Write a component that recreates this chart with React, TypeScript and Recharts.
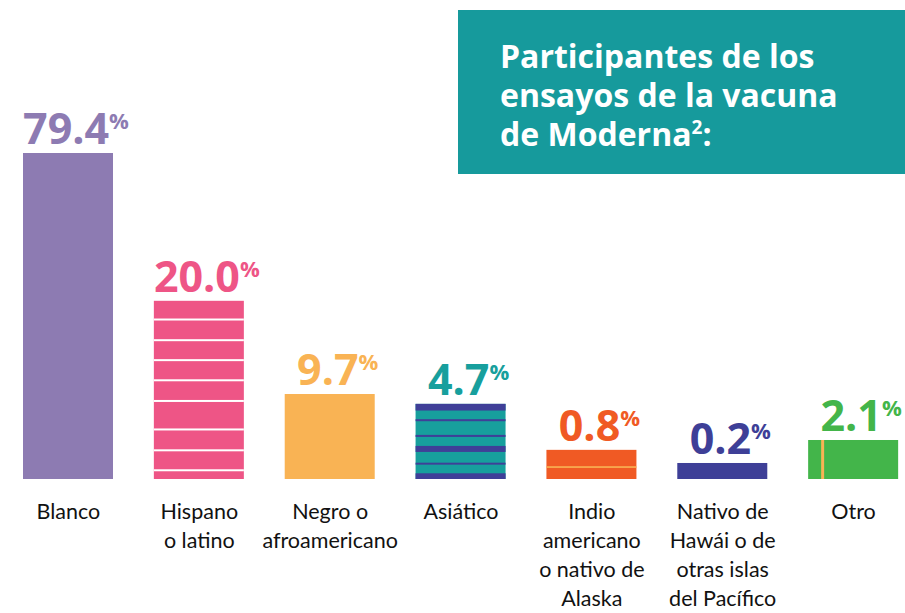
import { BarChart, Bar, XAxis, YAxis, LabelList } from 'recharts';

// categories as printed under the bars
const categories = [
  'Blanco',
  'Hispano o latino',
  'Negro o afroamericano',
  'Asiático',
  'Indio americano o nativo de Alaska',
  'Nativo de Hawái o de otras islas del Pacífico',
  'Otro',
];

// wrapped tick labels, one array of lines per category
const tickLines = [
  ['Blanco'],
  ['Hispano', 'o latino'],
  ['Negro o', 'afroamericano'],
  ['Asiático'],
  ['Indio', 'americano', 'o nativo de', 'Alaska'],
  ['Nativo de', 'Hawái o de', 'otras islas', 'del Pacífico'],
  ['Otro'],
];

// share of trial participants (%), as printed above each bar
const percentages = [79.4, 20.0, 9.7, 4.7, 0.8, 0.2, 2.1];

// the infographic does not draw bars to scale: these are the drawn lengths,
// read off the picture, in units where the Blanco bar = 79.4
const barLengths = [79.4, 43.4, 20.7, 18.3, 7.1, 3.9, 9.5];

const data = categories.map((name, i) => ({ name, pct: percentages[i], len: barLengths[i] }));

const COLORS = ['#8d7bb2', '#ee5586', '#f9b354', '#179f9d', '#f05a24', '#3e3f97', '#43b54a'];
const STRIPE_PURPLE = '#3f3f98';
const YELLOW = '#f9b354';

const PatternBar = (props: any) => {
  const { x, y, width, height, index } = props;
  const fill = COLORS[index];
  const parts = [<rect key="b" x={x} y={y} width={width} height={height} fill={fill} />];
  if (index === 1) {
    // white horizontal rules across the pink bar
    [0.105, 0.221, 0.333, 0.446, 0.562, 0.722, 0.839, 0.951].forEach((f, k) =>
      parts.push(<rect key={'w' + k} x={x} y={y + f * height - 1} width={width} height={2} fill="#fff" />)
    );
  }
  if (index === 3) {
    // purple bands across the teal bar
    [
      [0, 0.089],
      [0.204, 0.231],
      [0.413, 0.44],
      [0.56, 0.64],
      [0.783, 0.809],
      [0.924, 1],
    ].forEach(([a, b], k) =>
      parts.push(
        <rect key={'p' + k} x={x} y={y + a * height} width={width} height={(b - a) * height} fill={STRIPE_PURPLE} />
      )
    );
  }
  if (index === 4) {
    parts.push(<rect key="l" x={x} y={y + height * 0.59 - 0.8} width={width} height={1.6} fill={YELLOW} />);
  }
  if (index === 6) {
    parts.push(<rect key="v" x={x + 13} y={y} width={3} height={height} fill={YELLOW} />);
  }
  return <g>{parts}</g>;
};

const PctLabel = (props: any) => {
  const { x, y, width, index, value } = props;
  const cx = x + width / 2 + 8;
  return (
    <text
      x={cx}
      y={y - 9}
      textAnchor="middle"
      fill={COLORS[index]}
      fontFamily="'Open Sans', sans-serif"
      fontWeight={700}
      fontSize={43}
    >
      {Number(value).toFixed(1)}
      <tspan fontSize={22} dy={-15}>
        %
      </tspan>
    </text>
  );
};

const CategoryTick = (props: any) => {
  const { x, y, payload } = props;
  const lines = tickLines[payload.index] || [payload.value];
  return (
    <text
      x={x}
      y={y + 31.5}
      textAnchor="middle"
      fill="#111"
      fontFamily="Lato, 'Noto Sans', sans-serif"
      fontSize={21.5}
    >
      {lines.map((l: string, k: number) => (
        <tspan key={k} x={x} dy={k === 0 ? 0 : 29.3}>
          {l}
        </tspan>
      ))}
    </text>
  );
};

export default function App() {
  return (
    <div
      style={{
        position: 'absolute',
        left: 0,
        top: 0,
        width: 905,
        height: 613,
        overflow: 'hidden',
        background: '#fff',
      }}
    >
      <BarChart
        width={920}
        height={613}
        data={data}
        margin={{ top: 153, right: 1, left: 3, bottom: 0 }}
        barCategoryGap={0}
      >
        <XAxis
          dataKey="name"
          interval={0}
          tickLine={false}
          axisLine={false}
          height={134}
          tick={<CategoryTick />}
        />
        <YAxis hide domain={[0, 79.4]} />
        <Bar dataKey="len" barSize={90} shape={PatternBar} isAnimationActive={false}>
          <LabelList dataKey="pct" content={PctLabel} />
        </Bar>
      </BarChart>
      <div
        style={{
          position: 'absolute',
          left: 458,
          top: 10,
          width: 447,
          height: 164,
          background: '#169a9c',
          boxSizing: 'border-box',
          paddingLeft: 42,
          paddingTop: 26,
          color: '#fff',
          fontFamily: "'Open Sans', sans-serif",
          fontWeight: 700,
          fontSize: 32,
          lineHeight: '39px',
          whiteSpace: 'nowrap',
        }}
      >
        Participantes de los
        <br />
        ensayos de la vacuna
        <br />
        de Moderna
        <span style={{ fontSize: 19, position: 'relative', top: -12 }}>2</span>:
      </div>
    </div>
  );
}
